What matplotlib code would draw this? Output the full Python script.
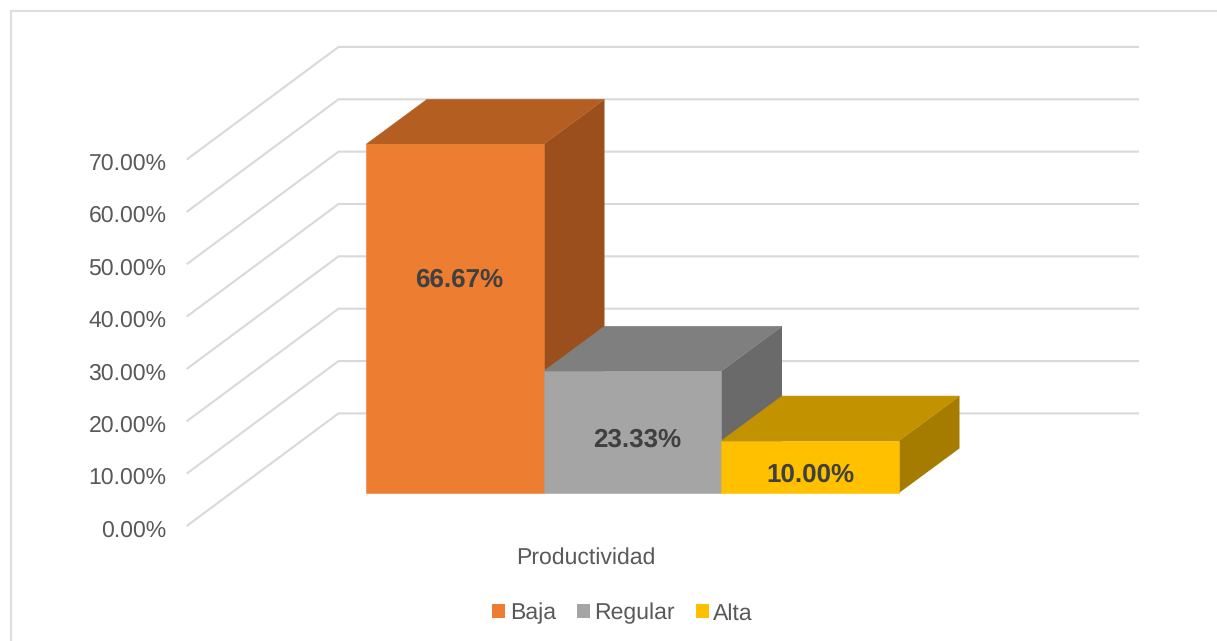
import matplotlib
matplotlib.use("Agg")
import matplotlib.pyplot as plt
from matplotlib.lines import Line2D
from matplotlib.patches import Patch, Polygon, Rectangle

plt.rcParams['font.family'] = ['Liberation Sans', 'DejaVu Sans']
plt.rcParams['text.hinting'] = 'no_hinting'
plt.rcParams['text.hinting_factor'] = 1

# data
categories = ["Baja", "Regular", "Alta"]
values = [66.67, 23.33, 10.00]
ticks = [0, 10, 20, 30, 40, 50, 60, 70]
axis_name = "Productividad"

front_colors = ["#ED7D31", "#A5A5A5", "#FFC000"]
top_colors = ["#B55E22", "#7F7F7F", "#C29200"]
side_colors = ["#9A4F1C", "#6A6A6A", "#A67C00"]

# px per unit, used only to set up the axes
PX_X = 177.5
PX_Y = 5.235
BASE_PX = 493.4
DEPTH_X = 61 / PX_X
DEPTH_Y = 45 / PX_Y
WALL_LEFT = -178.5 / PX_X
WALL_RIGHT = 772 / PX_X
FLOOR = -32 / PX_Y
WALL_DX = 151 / PX_X
WALL_DY = 112 / PX_Y

# label offsets from the middle of each bar (the source chart puts them off centre)
LABEL_DX = [0.025, 0.03, 0.005]
LABEL_DY = [39 / PX_Y, -8 / PX_Y, -8 / PX_Y]


def draw_walls(ax):
    for t in ticks:
        y = FLOOR + t
        ax.plot([WALL_LEFT, WALL_LEFT + WALL_DX, WALL_RIGHT],
                [y, y + WALL_DY, y + WALL_DY],
                color="#D9D9D9", lw=1.5, zorder=1, solid_joinstyle="miter")
        ax.text(WALL_LEFT - 21 / PX_X, y - 5 / PX_Y, f"{t:.2f}%", ha="right", va="center",
                fontsize=16.9, color="#595959")


def draw_bars(ax):
    for i, v in enumerate(values):
        front = Rectangle((i, 0), 1, v, fc=front_colors[i], ec=front_colors[i], lw=0.4, zorder=4)
        top = Polygon([(i, v), (i + DEPTH_X, v + DEPTH_Y),
                       (i + 1 + DEPTH_X, v + DEPTH_Y), (i + 1, v)],
                      fc=top_colors[i], ec=top_colors[i], lw=0.4, zorder=3)
        side = Polygon([(i + 1, 0), (i + 1 + DEPTH_X, DEPTH_Y),
                        (i + 1 + DEPTH_X, v + DEPTH_Y), (i + 1, v)],
                       fc=side_colors[i], ec="none", zorder=2 + 0.1 * i)
        ax.add_patch(side)
        ax.add_patch(top)
        ax.add_patch(front)
        ax.text(i + 0.5 + LABEL_DX[i], v / 2 + LABEL_DY[i], f"{v:.2f}%",
                ha="center", va="center", fontsize=19, fontweight="bold",
                color="#404040", zorder=5)


def main():
    fig = plt.figure(figsize=(12.17, 6.41), dpi=100)
    ax = fig.add_axes([0, 0, 1, 1])
    ax.set_xlim(-366 / PX_X, (1217 - 366) / PX_X)
    ax.set_ylim((BASE_PX - 641) / PX_Y, BASE_PX / PX_Y)
    ax.axis("off")

    # chart frame, only top and left are in the crop
    fig.add_artist(Line2D([11 / 1217, 11 / 1217, 1], [0, 1 - 11 / 641, 1 - 11 / 641],
                          color="#DEDEDE", lw=1.5, transform=fig.transFigure,
                          solid_joinstyle="miter"))

    draw_walls(ax)
    draw_bars(ax)

    ax.text(1.24, -12.4, axis_name, ha="center", va="center", fontsize=16.8, color="#595959")

    handles = [Patch(fc=c, ec="none", label=n) for c, n in zip(front_colors, categories)]
    fig.legend(handles=handles, ncol=3, loc="center", bbox_to_anchor=(622.5 / 1217, 1 - 613.5 / 641),
               frameon=False, fontsize=16.8, labelcolor="#595959", handlelength=0.55,
               handleheight=0.55, handletextpad=0.2, columnspacing=0.9)

    fig.savefig("out.png", dpi=100)


if __name__ == "__main__":
    main()
